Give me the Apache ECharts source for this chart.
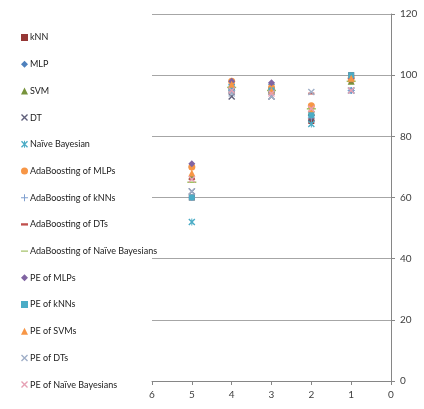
<!DOCTYPE html>
<html><head><meta charset="utf-8">
<script src="https://cdn.jsdelivr.net/npm/echarts@6/dist/echarts.min.js"></script>
<style>html,body{margin:0;padding:0;background:#fff}#c{width:424px;height:409px}</style>
</head><body><div id="c"></div>
<script>
// x positions of the groups
const xs = [5, 4, 3, 2, 1];
const seriesNames = ['kNN','MLP','SVM','DT','Naïve Bayesian','AdaBoosting of MLPs','AdaBoosting of kNNs','AdaBoosting of DTs','AdaBoosting of Naïve Bayesians','PE of MLPs','PE of kNNs','PE of SVMs','PE of DTs','PE of Naïve Bayesians'];
const knn      = [60, 95, 95, 85, 100];
const mlp      = [70, 97, 97, 87, 95];
const svm      = [67, 96, 96, 88, 98];
const dt       = [62, 93, 93, 86, 95];
const nb       = [52, 95, 95, 84, 95];
const adaMlp   = [70, 98, 96, 90, 99];
const adaKnn   = [60, 95, 95, 86, 95];
const adaDt    = [66, 96, 94, 94, 98];
const adaNb    = [65, 96, 95, 89, 98];
const peMlp    = [71, 98, 97.5, 88, 99];
const peKnn    = [60, 96, 95, 87, 100];
const peSvm    = [68, 97, 95, 89, 99];
const peDt     = [62, 94, 93, 94.5, 95];
const peNb     = [66, 95, 94, 89, 95];
const values = [knn, mlp, svm, dt, nb, adaMlp, adaKnn, adaDt, adaNb, peMlp, peKnn, peSvm, peDt, peNb];

const X = 'path://M0,1.4L1.4,0L10,8.6L8.6,10Z M8.6,0L10,1.4L1.4,10L0,8.6Z';
const AST = 'path://M0,1.4L1.4,0L10,8.6L8.6,10Z M8.6,0L10,1.4L1.4,10L0,8.6Z M4.3,0H5.7V10H4.3Z';
const PLUS = 'path://M4.3,0H5.7V10H4.3Z M0,4.3H10V5.7H0Z';
const styles = [
  {symbol:'rect', size:6, color:'#953735'},
  {symbol:'diamond', size:7, color:'#4F81BD'},
  {symbol:'triangle', size:7, color:'#77933C'},
  {symbol:X, size:7, color:'#5F5F7A'},
  {symbol:AST, size:7, color:'#4BACC6'},
  {symbol:'circle', size:7, color:'#F79646'},
  {symbol:PLUS, size:7, color:'#7F9FCF'},
  {symbol:'path://M0,0H6V2H0Z', size:6, color:'#C0504D', keep:true},
  {symbol:'path://M0,0H10V1.6H0Z', size:9, color:'#9BBB59', keep:true},
  {symbol:'diamond', size:7, color:'#8064A2'},
  {symbol:'rect', size:6, color:'#4BACC6'},
  {symbol:'triangle', size:7, color:'#F79646'},
  {symbol:X, size:7, color:'#A0AFC8'},
  {symbol:X, size:7, color:'#E6A0B4'}
];

const chart = echarts.init(document.getElementById('c'));
chart.setOption({
  animation:false,
  textStyle:{fontFamily:'Lato'},
  legend:{
    orient:'vertical', left:16, top:28, height:400, itemGap:17.7, itemWidth:7, itemHeight:7,
    textStyle:{fontSize:9, color:'#1a1a1a', fontFamily:'Lato', padding:[0,0,0,-3]},
    data:seriesNames
  },
  grid:{left:152, right:33, top:14, bottom:28},
  xAxis:{type:'value', inverse:true, min:0, max:6, interval:1,
    axisLine:{show:true, onZero:false, lineStyle:{color:'#868686'}},
    axisTick:{show:true, length:4, lineStyle:{color:'#868686'}},
    axisLabel:{fontSize:10, color:'#404040', margin:9, fontFamily:'Lato'},
    splitLine:{show:false}},
  yAxis:{type:'value', position:'right', min:0, max:120, interval:20,
    axisLine:{show:true, lineStyle:{color:'#868686'}},
    axisTick:{show:true, length:4, lineStyle:{color:'#868686'}},
    axisLabel:{fontSize:10, color:'#404040', margin:9, fontFamily:'Lato'},
    splitLine:{show:true, lineStyle:{color:'#A6A6A6'}}},
  series: seriesNames.map((n,i)=>({
    name:n, type:'scatter', symbol:styles[i].symbol, symbolSize:styles[i].size,
    symbolKeepAspect:!!styles[i].keep,
    itemStyle:{color:styles[i].color, opacity:1},
    data: xs.map((x,j)=>[x, values[i][j]])
  }))
});
</script></body></html>
